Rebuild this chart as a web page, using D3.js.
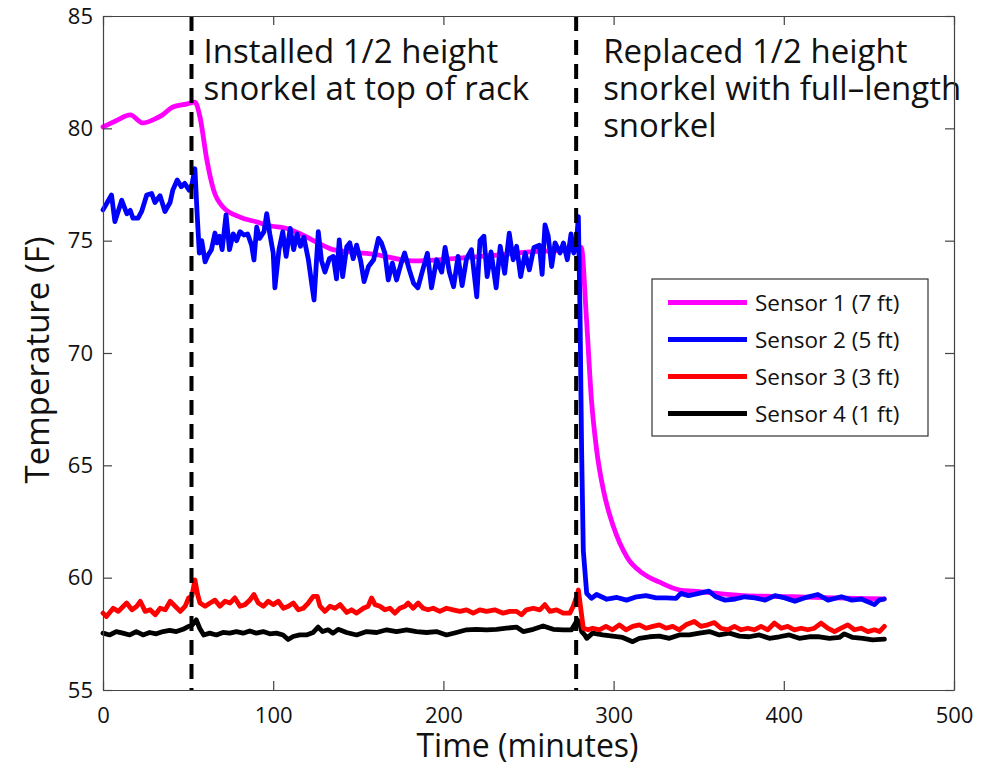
<!DOCTYPE html>
<html>
<head>
<meta charset="utf-8">
<title>Rack temperature</title>
<script src="https://d3js.org/d3.v7.min.js"></script>
<style>
  body { margin: 0; background: #fff; }
  text { font-family: "Open Sans", "Noto Sans", sans-serif; fill: #111; }
</style>
</head>
<body>
<div id="chart"></div>
<script>
// [minute, temperature F]
var sensor1 = [[0,80.06],[8,80.35],[16,80.6],[23.5,80.24],[30,80.4],[35,80.6],[41,80.95],[49,81.08],[54,81.17],[57,80.5],
  [61,78.6],[65,77.25],[70.5,76.5],[80.5,76.05],[92,75.8],[96,75.7],[110,75.5],[116,75.3],[129,74.8],[135,74.6],
  [159,74.4],[182,74.1],[206,74.2],[230,74.35],[251,74.5],[278.5,74.6],[281,74.7],[284,71.6],[287,67.9],[290,65.7],
  [294,63.9],[300,62.25],[308,60.9],[317,60.2],[327,59.8],[339,59.45],[347,59.4],[376,59.2],[405,59.15],[430,59.1],[459,59.05]];

var sensor2 = [[0,76.37],[5,77.03],[7,75.85],[11,76.8],[14,76.2],[16,76.35],[17.6,76.0],[20.6,76.0],[22.7,76.3],[25.7,77.03],
  [28.6,77.1],[30.5,76.7],[33.5,77.0],[36.4,76.3],[39.4,76.7],[41,77.25],[43.6,77.7],[46,77.4],[48,77.55],[50.6,77.25],
  [52,77.4],[54,78.2],[55.4,76.07],[56.6,74.45],[58,75.0],[60,74.06],[61.7,74.35],[63.7,74.6],[65.8,75.34],[67,74.9],
  [68.5,75.2],[70,74.6],[72.3,76.15],[74.3,74.6],[76.5,75.3],[78.5,75.0],[80.5,75.4],[82.8,75.25],[85,75.3],[87.3,74.8],
  [88.7,74.14],[90.3,75.6],[92,75.1],[94.6,75.4],[96.2,76.2],[98,75.3],[100,74.45],[101,72.9],[103.4,74.6],[105.6,75.4],
  [107.6,74.3],[110,75.55],[112,74.6],[114,75.3],[116,74.75],[118,75.15],[120.7,74.14],[122.6,73.1],[124,72.36],[126.5,75.4],
  [128.4,74.1],[130.4,73.6],[133,74.2],[135.3,74.3],[137.2,73.3],[138.8,75.03],[140.8,73.4],[143.2,74.73],[145,74.9],[147,74.2],
  [149,74.8],[151.4,74.1],[153.4,73.18],[156,73.85],[159,74.15],[161.8,75.1],[163.6,74.9],[165.6,74.45],[167.6,73.25],[170,74.0],
  [172.5,73.25],[175,73.95],[177.2,74.45],[180,73.7],[182.5,73.1],[185,72.9],[187.5,73.6],[190.6,74.44],[193,72.9],[196,74.15],
  [199,73.6],[201,74.7],[203.5,73.6],[206,72.95],[208.6,74.3],[211,73.0],[213.6,74.2],[216.5,74.6],[219.6,72.5],[221.5,75.0],
  [223.8,75.2],[225.7,73.4],[228,74.5],[231,72.9],[233.4,74.75],[236,73.55],[238.7,75.33],[241,74.15],[243,74.75],[245.4,73.4],
  [248,74.45],[250.5,73.7],[253.2,74.7],[256.4,74.8],[258,73.5],[259.7,75.7],[261.6,75.2],[263.6,73.85],[265.6,74.9],[268.5,74.45],
  [270.5,74.9],[272.8,74.15],[275,75.3],[276.6,74.45],[278,74.75],[279.3,76.07],[280.3,71.6],[281.2,65.7],[282.2,61.2],[284.2,59.3],
  [287,59.08],[290,59.25],[296,59.04],[302,59.12],[307.6,59.0],[313.5,59.15],[319,59.2],[325,59.1],[331,59.1],[336.7,59.08],
  [339.5,59.3],[344,59.2],[350,59.3],[356,59.4],[360,59.15],[365.5,59.0],[371.5,59.05],[377,59.15],[383,59.1],[389,59.0],
  [394.8,59.2],[400.6,59.1],[406.5,58.95],[412,59.1],[420,59.25],[426,59.0],[433.8,59.15],[440,59.0],[445.5,59.05],[453.3,58.8],
  [456,59.0],[459,59.05]];

var sensor3 = [[0,58.42],[2,58.27],[6,58.64],[9,58.5],[12,58.73],[13.9,58.87],[17,58.57],[19.9,58.73],[21.9,58.95],[24.8,58.5],
  [27.7,58.57],[30.7,58.35],[33.6,58.64],[36.6,58.57],[39.5,58.95],[42.4,58.73],[45.4,58.5],[48.3,58.73],[50.3,59.1],[52.2,59.17],
  [54,59.9],[55.6,59.25],[57,58.87],[60,58.73],[62.9,58.87],[65.8,59.0],[68.7,58.73],[71.7,58.95],[74.6,58.87],[77.5,59.1],
  [80.5,58.73],[83.4,58.8],[86.3,59.0],[88.7,59.25],[91.2,58.87],[94.2,58.73],[97.1,58.95],[100,58.8],[103,58.95],[106,58.64],
  [108.9,58.73],[111.8,58.87],[114.8,58.57],[117.7,58.64],[120.6,58.87],[123.6,59.17],[125.9,59.17],[127.5,58.73],[130.4,58.5],[133.4,58.73],
  [136.3,58.64],[139.3,58.8],[143.2,58.45],[146,58.57],[149,58.42],[153,58.64],[155.8,58.73],[157.8,59.1],[159.8,58.8],[162.7,58.73],
  [165.6,58.57],[168.6,58.64],[171.5,58.42],[174.4,58.64],[177.4,58.73],[179.3,58.87],[182.2,58.64],[185.2,58.87],[188.1,58.64],[191,58.57],
  [194,58.64],[197.9,58.5],[201.8,58.64],[205.7,58.57],[209.7,58.5],[213.6,58.57],[217.5,58.42],[221.4,58.57],[225.3,58.5],[230.2,58.57],
  [235.1,58.42],[239,58.5],[243,58.5],[245.9,58.35],[248.8,58.57],[252.8,58.64],[256.7,58.57],[259.6,58.8],[262.6,58.5],[266.5,58.57],
  [270.4,58.42],[274.3,58.42],[276.3,58.73],[278.7,59.25],[279.3,59.45],[282.2,57.75],[285,57.68],[287.7,57.75],[291.6,57.68],[295.5,57.83],
  [299.4,57.68],[303.4,57.9],[307.3,57.68],[311.2,57.83],[315.1,57.9],[319,57.75],[323,57.83],[326.9,57.9],[330.8,57.75],[334.7,57.83],
  [338.6,57.68],[342.5,57.9],[347.4,58.05],[351.3,57.83],[355.3,57.9],[359.2,58.0],[363.1,57.75],[367,57.68],[371,57.83],[374.9,57.68],
  [378.8,57.75],[382.7,57.68],[386.6,57.83],[390.6,57.68],[394.5,57.98],[398.4,57.75],[402.3,57.83],[406.2,57.68],[410.2,57.75],[414.1,57.68],
  [418,57.75],[421.9,57.98],[425.8,57.75],[429.8,57.6],[433.7,57.75],[437.6,57.9],[441.5,57.68],[445.4,57.75],[449.4,57.6],[453.3,57.68],
  [456.2,57.6],[459.1,57.83]];

var sensor4 = [[0,57.53],[4,57.45],[7.8,57.6],[11.7,57.53],[15.7,57.45],[19.6,57.6],[23.5,57.45],[27.4,57.56],[31.3,57.5],[35.3,57.6],
  [39.2,57.65],[43.1,57.6],[47,57.7],[50,57.82],[52.5,57.9],[54.8,58.12],[56.8,57.75],[59.2,57.45],[62.7,57.53],[66.6,57.45],
  [70.5,57.56],[74.4,57.53],[78.4,57.6],[82.3,57.53],[86.2,57.63],[90.1,57.53],[94.1,57.6],[98,57.5],[101.9,57.53],[105.8,57.45],
  [108.8,57.25],[111.7,57.38],[115.6,57.45],[119.5,57.45],[123.5,57.56],[126.4,57.8],[129,57.6],[132.3,57.68],[135.2,57.53],[138.2,57.7],
  [143.1,57.56],[149,57.45],[154.9,57.6],[160.8,57.56],[166.7,57.68],[172.5,57.6],[178.4,57.68],[184.2,57.6],[190.1,57.56],[195.9,57.6],
  [201.8,57.45],[207.7,57.56],[213.6,57.68],[219.4,57.7],[225.3,57.68],[231.2,57.7],[237,57.75],[242.9,57.8],[246.9,57.6],[252.8,57.7],
  [258.6,57.85],[264.5,57.7],[270.4,57.68],[275.3,57.68],[278.7,58.12],[280.1,57.97],[281.2,57.6],[283,57.45],[284.2,57.3],[287.7,57.53],
  [293.6,57.45],[299.4,57.4],[305.3,57.34],[311.2,57.15],[315.1,57.3],[321,57.37],[326.9,57.4],[332.8,57.3],[338.6,57.45],[344.5,57.45],
  [350.4,57.53],[356.3,57.6],[362.1,57.45],[368,57.53],[373.9,57.4],[379.7,57.37],[385.6,57.45],[391.5,57.3],[397.4,57.37],[403.2,57.45],
  [409.1,57.3],[415,57.37],[420.9,57.37],[426.8,57.3],[432.6,57.34],[435.6,57.5],[440.5,57.34],[446.4,57.3],[452.2,57.23],[459.1,57.26]];

var seriesNames = ["Sensor 1 (7 ft)", "Sensor 2 (5 ft)", "Sensor 3 (3 ft)", "Sensor 4 (1 ft)"];
var seriesColors = ["#ff00ff", "#0000ff", "#ff0000", "#000000"];
var xTicks = [0, 100, 200, 300, 400, 500];
var yTicks = [55, 60, 65, 70, 75, 80, 85];
var eventTimes = [52, 278];
var eventNotes = [
  ["Installed 1/2 height", "snorkel at top of rack"],
  ["Replaced 1/2 height", "snorkel with full\u2013length", "snorkel"]
];

var W = 986, H = 766;
var margin = {top: 16, right: 32, bottom: 76, left: 103};
var width = W - margin.left - margin.right,
    height = H - margin.top - margin.bottom;

var svg = d3.select("#chart").append("svg")
  .attr("width", W).attr("height", H);
var g = svg.append("g")
  .attr("transform", "translate(" + margin.left + "," + margin.top + ")");

var x = d3.scaleLinear().domain([0, 500]).range([0, width]);
var y = d3.scaleLinear().domain([55, 85]).range([height, 0]);

// data lines
var line = d3.line().x(function(d) { return x(d[0]); }).y(function(d) { return y(d[1]); });
var smooth = d3.line().curve(d3.curveMonotoneX)
  .x(function(d) { return x(d[0]); }).y(function(d) { return y(d[1]); });

var allSeries = [sensor1, sensor2, sensor3, sensor4];
// draw bottom first so magenta/blue sit on top like the original
[3, 2, 0, 1].forEach(function(i) {
  g.append("path")
    .datum(allSeries[i])
    .attr("fill", "none")
    .attr("stroke", seriesColors[i])
    .attr("stroke-width", 4.8)
    .attr("stroke-linejoin", "round")
    .attr("stroke-linecap", "round")
    .attr("d", i === 0 ? smooth : line);
});

// event markers
g.selectAll(".event")
  .data(eventTimes)
  .enter().append("line")
  .attr("x1", function(d) { return x(d); })
  .attr("x2", function(d) { return x(d); })
  .attr("y1", 0).attr("y2", height)
  .attr("stroke", "#000")
  .attr("stroke-width", 4)
  .attr("stroke-dasharray", "15,9");

var noteOffset = [12, 27];
eventNotes.forEach(function(lines, i) {
  var x0 = x(eventTimes[i]) + noteOffset[i];
  var t = g.append("text")
    .attr("x", x0)
    .attr("y", 47)
    .style("font-size", "33px");
  lines.forEach(function(s, k) {
    t.append("tspan").attr("x", x0).attr("dy", k === 0 ? 0 : 37).text(s);
  });
});

// axes box with inward ticks
var axisColor = "#444";
function styleAxis(sel, labels) {
  sel.select(".domain").attr("stroke", axisColor).attr("stroke-width", 1.2);
  sel.selectAll(".tick line").attr("stroke", axisColor).attr("stroke-width", 1.2);
  sel.selectAll(".tick text").style("font-size", "22px").style("font-family", "'Open Sans', sans-serif").attr("fill", "#111");
  if (!labels) sel.selectAll(".tick text").remove();
}

var xb = g.append("g").attr("transform", "translate(0," + height + ")")
  .call(d3.axisBottom(x).tickValues(xTicks).tickSizeInner(-9).tickSizeOuter(0).tickPadding(17));
styleAxis(xb, true);
var xt = g.append("g")
  .call(d3.axisTop(x).tickValues(xTicks).tickSizeInner(-9).tickSizeOuter(0));
styleAxis(xt, false);
var yl = g.append("g")
  .call(d3.axisLeft(y).tickValues(yTicks).tickSizeInner(-9).tickSizeOuter(0).tickPadding(10));
styleAxis(yl, true);
var yr = g.append("g").attr("transform", "translate(" + width + ",0)")
  .call(d3.axisRight(y).tickValues(yTicks).tickSizeInner(-9).tickSizeOuter(0));
styleAxis(yr, false);

// axis titles
svg.append("text")
  .attr("x", margin.left + x(250) - 1)
  .attr("y", 757)
  .attr("text-anchor", "middle")
  .style("font-size", "32px")
  .text("Time (minutes)");
svg.append("text")
  .attr("transform", "translate(49," + (margin.top + y(70) + 7) + ") rotate(-90)")
  .attr("text-anchor", "middle")
  .style("font-size", "33px")
  .text("Temperature (F)");

// legend
var legend = svg.append("g").attr("transform", "translate(652,279)");
legend.append("rect")
  .attr("width", 276).attr("height", 157)
  .attr("fill", "#fff")
  .attr("stroke", "#333").attr("stroke-width", 1.2);
var item = legend.selectAll(".item")
  .data(seriesNames)
  .enter().append("g")
  .attr("transform", function(d, i) { return "translate(0," + (23.5 + i * 37) + ")"; });
item.append("line")
  .attr("x1", 16).attr("x2", 95)
  .attr("stroke", function(d, i) { return seriesColors[i]; })
  .attr("stroke-width", 5);
item.append("text")
  .attr("x", 103).attr("y", 8)
  .style("font-size", "22.5px")
  .text(function(d) { return d; });
</script>
</body>
</html>
